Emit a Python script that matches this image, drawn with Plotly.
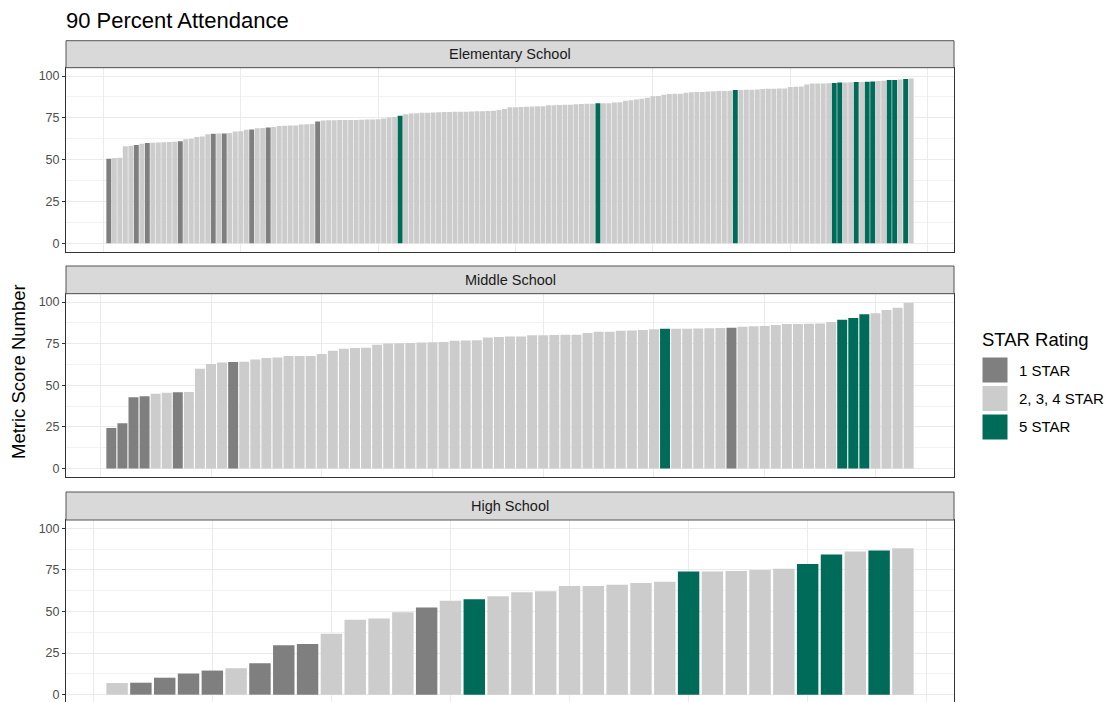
import plotly.graph_objects as go

# ---------------- data ----------------
panel_names = ["Elementary School", "Middle School", "High School"]
star_labels = {1: "1 STAR", 2: "2, 3, 4 STAR", 5: "5 STAR"}
star_colors = {1: "#7F7F7F", 2: "#CCCCCC", 5: "#006B59"}
y_ticks = [0, 25, 50, 75, 100]

elem_scores = [50.5, 51.0, 51.2, 58.0, 58.4, 58.8, 59.5, 60.0, 60.2, 60.3,
               60.4, 60.6, 60.8, 61.0, 62.3, 62.5, 63.6, 63.9, 65.2, 65.5,
               65.6, 65.7, 66.0, 66.8, 67.0, 67.9, 68.1, 68.8, 69.0, 69.3,
               69.5, 70.2, 70.3, 70.4, 70.5, 71.0, 71.2, 71.4, 72.9, 73.5,
               73.6, 73.6, 73.7, 73.7, 73.8, 73.8, 73.9, 74.0, 74.0, 74.2,
               74.7, 75.2, 75.5, 76.3, 77.1, 77.6, 77.8, 78.0, 78.1, 78.2,
               78.4, 78.5, 78.5, 78.6, 78.7, 78.7, 78.8, 78.9, 79.0, 79.1,
               79.2, 79.7, 80.3, 81.3, 81.4, 81.5, 81.6, 81.8, 81.9, 82.0,
               82.5, 82.6, 82.7, 82.8, 82.9, 83.2, 83.3, 83.4, 83.5, 83.7,
               83.7, 83.8, 84.2, 84.3, 85.2, 85.5, 86.0, 86.5, 87.0, 87.9,
               88.1, 88.8, 89.3, 89.4, 89.5, 90.0, 90.3, 90.4, 90.5, 90.8,
               90.9, 91.0, 91.1, 91.2, 91.6, 91.7, 91.8, 91.8, 91.9, 92.3,
               92.4, 92.4, 92.5, 92.6, 93.5, 93.6, 93.7, 95.0, 95.5, 95.6,
               95.6, 95.7, 95.8, 96.2, 96.2, 96.3, 96.4, 96.5, 96.6, 96.7,
               97.1, 97.2, 97.6, 97.6, 98.0, 98.2, 98.5]
elem_stars = [1, 2, 2, 2, 2, 1, 2, 1, 2, 2,
              2, 2, 2, 1, 2, 2, 2, 2, 2, 1,
              2, 1, 2, 2, 2, 2, 1, 2, 2, 1,
              2, 2, 2, 2, 2, 2, 2, 2, 1, 2,
              2, 2, 2, 2, 2, 2, 2, 2, 2, 2,
              2, 2, 2, 5, 2, 2, 2, 2, 2, 2,
              2, 2, 2, 2, 2, 2, 2, 2, 2, 2,
              2, 2, 2, 2, 2, 2, 2, 2, 2, 2,
              2, 2, 2, 2, 2, 2, 2, 2, 2, 5,
              2, 2, 2, 2, 2, 2, 2, 2, 2, 2,
              2, 2, 2, 2, 2, 2, 2, 2, 2, 2,
              2, 2, 2, 2, 5, 2, 2, 2, 2, 2,
              2, 2, 2, 2, 2, 2, 2, 2, 2, 2,
              2, 2, 5, 5, 2, 2, 5, 2, 5, 5,
              2, 2, 5, 5, 2, 5, 2]

mid_scores = [24.2, 27.1, 42.7, 43.3, 44.9, 45.5, 45.7, 45.9, 59.9, 62.7,
              63.7, 63.9, 64.1, 65.5, 66.3, 66.7, 67.5, 67.5, 67.6, 68.7,
              70.7, 71.9, 72.4, 72.5, 74.3, 75.1, 75.2, 75.4, 75.7, 75.8,
              75.9, 76.7, 76.8, 77.0, 78.6, 79.0, 79.2, 79.2, 80.0, 80.0,
              80.2, 80.4, 80.4, 81.4, 82.2, 82.2, 82.7, 82.9, 83.2, 83.6,
              84.0, 84.0, 84.0, 84.1, 84.2, 84.4, 84.6, 85.2, 85.4, 85.6,
              86.2, 86.8, 86.8, 87.0, 87.1, 88.0, 89.4, 90.4, 92.6, 93.2,
              95.2, 96.6, 99.6]
mid_stars = [1, 1, 1, 1, 2, 2, 1, 2, 2, 2,
             2, 1, 2, 2, 2, 2, 2, 2, 2, 2,
             2, 2, 2, 2, 2, 2, 2, 2, 2, 2,
             2, 2, 2, 2, 2, 2, 2, 2, 2, 2,
             2, 2, 2, 2, 2, 2, 2, 2, 2, 2,
             5, 2, 2, 2, 2, 2, 1, 2, 2, 2,
             2, 2, 2, 2, 2, 2, 5, 5, 5, 2,
             2, 2, 2]

high_scores = [7.0, 7.2, 10.2, 12.7, 14.5, 15.9, 18.9, 29.7, 30.5, 36.7,
               45.0, 45.8, 49.6, 52.4, 56.4, 57.4, 59.2, 61.6, 62.2, 65.3,
               65.3, 66.1, 67.1, 67.9, 74.1, 74.1, 74.3, 74.9, 75.7, 78.5,
               84.3, 86.1, 86.7, 88.0]
high_stars = [2, 1, 1, 1, 1, 2, 1, 1, 1, 2,
              2, 2, 2, 1, 2, 5, 2, 2, 2, 2,
              2, 2, 2, 2, 5, 2, 2, 2, 2, 5,
              5, 2, 5, 2]

panel_scores = [elem_scores, mid_scores, high_scores]
panel_stars = [elem_stars, mid_stars, high_stars]
x_grid_step = [25, 10, 5]

# ---------------- layout geometry (screen pixels) ----------------
W, H = 1112, 702
OFF = 8  # page body margin offset of the plot div
px_left, px_right = 66, 954
strip_tops = [40.7, 266.0, 492.0]
panel_tops = [67.7, 293.7, 520.0]
panel_bots = [251.7, 476.7, 703.0]


def py(v):
    return 1 - (v - OFF) / H


def pxx(v):
    return (v - OFF) / W


FONT = "Liberation Sans, Arial, sans-serif"
fig = go.Figure()

for i in range(3):
    scores = panel_scores[i]
    stars = panel_stars[i]
    n = len(scores)
    ranks = list(range(1, n + 1))
    suffix = "" if i == 0 else str(i + 1)
    for code in (1, 2, 5):
        xs = [r for r, s in zip(ranks, stars) if s == code]
        ys = [v for v, s in zip(scores, stars) if s == code]
        fig.add_trace(go.Bar(
            x=xs, y=ys, width=0.9,
            marker=dict(color=star_colors[code], line=dict(width=0)),
            name=star_labels[code], showlegend=False,
            xaxis="x" + suffix, yaxis="y" + suffix,
        ))
    lo, hi = 1 - 0.45, n + 0.45
    pad = (hi - lo) * 0.05
    fig.layout["xaxis" + suffix] = dict(
        domain=[pxx(px_left), pxx(px_right)], anchor="y" + suffix,
        range=[lo - pad, hi + pad], showgrid=True, gridcolor="#EBEBEB",
        gridwidth=1.1, tick0=0, dtick=x_grid_step[i], showticklabels=False,
        ticks="", zeroline=False, showline=True, mirror=True,
        linecolor="#333333", linewidth=1,
    )
    fig.layout["yaxis" + suffix] = dict(
        domain=[py(panel_bots[i]), py(panel_tops[i])], anchor="x" + suffix,
        range=[-5, 105], tickvals=y_ticks, ticktext=[str(t) for t in y_ticks],
        showgrid=True, gridcolor="#EBEBEB", gridwidth=1.1,
        minor=dict(tick0=0, dtick=12.5, showgrid=True, gridcolor="#F2F2F2",
                   gridwidth=0.6, ticks=""),
        ticks="outside", ticklen=3, tickwidth=1, tickcolor="#333333",
        tickfont=dict(size=12.5, color="#4D4D4D", family=FONT),
        zeroline=False, showline=True, mirror=True,
        linecolor="#333333", linewidth=1,
    )
    # facet strip
    fig.add_shape(type="rect", xref="paper", yref="paper",
                  x0=pxx(px_left), x1=pxx(px_right),
                  y0=py(panel_tops[i]), y1=py(strip_tops[i]),
                  fillcolor="#D9D9D9", line=dict(color="#555555", width=1),
                  layer="above")
    fig.add_annotation(xref="paper", yref="paper",
                       x=pxx((px_left + px_right) / 2),
                       y=py((strip_tops[i] + panel_tops[i]) / 2),
                       text=panel_names[i], showarrow=False,
                       font=dict(size=14.5, color="#1A1A1A", family=FONT),
                       xanchor="center", yanchor="middle")

# title
fig.add_annotation(xref="paper", yref="paper", x=pxx(64), y=py(20),
                   text="90 Percent Attendance", showarrow=False,
                   xanchor="left", yanchor="middle",
                   font=dict(size=22, color="#000000", family=FONT))
# y-axis title
fig.add_annotation(xref="paper", yref="paper", x=pxx(18), y=py(372),
                   text="Metric Score Number", showarrow=False, textangle=-90,
                   xanchor="center", yanchor="middle",
                   font=dict(size=18.5, color="#000000", family=FONT))

# legend (drawn manually to match key size)
fig.add_annotation(xref="paper", yref="paper", x=pxx(980), y=py(340),
                   text="STAR Rating", showarrow=False,
                   xanchor="left", yanchor="middle",
                   font=dict(size=18.5, color="#000000", family=FONT))
key_centers = [370, 398.5, 427]
for code, cy in zip((1, 2, 5), key_centers):
    fig.add_shape(type="rect", xref="paper", yref="paper",
                  x0=pxx(982), x1=pxx(1008), y0=py(cy + 13), y1=py(cy - 13),
                  fillcolor=star_colors[code], line=dict(color="white", width=1))
    fig.add_annotation(xref="paper", yref="paper", x=pxx(1017), y=py(cy),
                       text=star_labels[code], showarrow=False,
                       xanchor="left", yanchor="middle",
                       font=dict(size=15, color="#000000", family=FONT))

fig.update_layout(
    width=W, height=H, margin=dict(l=0, r=0, t=0, b=0),
    paper_bgcolor="white", plot_bgcolor="white",
    showlegend=False, barmode="overlay",
    font=dict(family=FONT),
)

fig.write_html("out.html")
